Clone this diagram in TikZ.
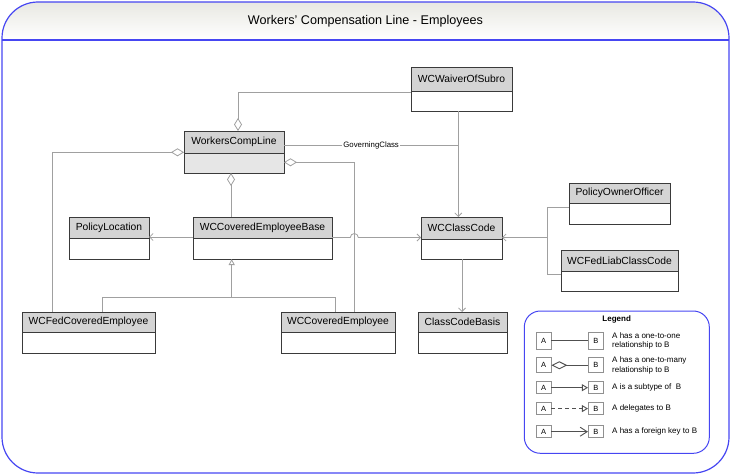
\documentclass[tikz,border=0pt]{standalone}
\usepackage{fontspec}
\setmainfont{Liberation Sans}
\usetikzlibrary{arrows.meta,calc}

\definecolor{frameblue}{HTML}{4646F2}
\definecolor{hdrgray}{HTML}{D4D4D4}
\definecolor{bodygray}{HTML}{E6E6E6}
\definecolor{conngray}{HTML}{A0A0A0}
\definecolor{boxedge}{HTML}{3A3A3A}
\definecolor{titletop}{HTML}{E8E8E2}
\definecolor{legline}{HTML}{505050}
\definecolor{legbox}{HTML}{909090}

\tikzset{
  conn/.style={draw=conngray, line width=0.8pt},
  aggs/.style={{Diamond[open,length=13pt,width=8pt]}-},
  fk/.style={-{Straight Barb[length=3.5pt,width=7pt]}},
  inh/.style={-{Triangle[open,length=6pt,width=6pt]}},
  clsfont/.style={font=\fontsize{10.3}{12}\selectfont, text=black, inner sep=0pt},
  lbl/.style={font=\fontsize{7.8}{9}\selectfont, fill=white, inner sep=1pt},
  legab/.style={draw=legbox, line width=0.7pt, minimum width=15pt, inner sep=0pt, font=\fontsize{7.5}{9}\selectfont},
  legtxt/.style={anchor=west, align=left, inner sep=0pt, font=\fontsize{8}{9.5}\selectfont},
  legconn/.style={draw=legline, line width=0.9pt},
}

\newcommand\classbox[8]{%
  \fill[#7] (#2,#3) rectangle (#4,#6);
  \fill[hdrgray] (#2,#3) rectangle (#4,#5);
  \draw[boxedge, line width=0.9pt] (#2,#5) -- (#4,#5);
  \node[draw=boxedge, line width=0.9pt, minimum width={(#4-#2)*1pt}, minimum height={(#6-#3)*1pt}, inner sep=0pt, outer sep=0pt] (#1) at ({(#2+#4)/2},{(#3+#6)/2}) {};
  \node[clsfont] (#1-t) at ({(#2+#4)/2},{(#3+#5)/2}) {#8};
}

\begin{document}
\begin{tikzpicture}[x=1pt, y=-1pt]
\useasboundingbox (0,0) rectangle (731,476);

% frame with title band
\begin{scope}
  \clip[rounded corners=36pt] (2,2) rectangle (729,473);
  \shade[top color=titletop, bottom color=white] (2,2) rectangle (729,40);
\end{scope}
\draw[frameblue, line width=1.2pt, rounded corners=36pt] (2,2) rectangle (729,473);
\draw[frameblue, line width=1.4pt] (2,40) -- (729,40);
\node[font=\fontsize{12.6}{15}\selectfont, inner sep=0pt] (title) at (365.5,21) {Workers' Compensation Line - Employees};

% classes
\classbox{waiver}{411}{67}{512}{91}{111}{white}{WCWaiverOfSubro}
\classbox{wcl}{184}{131}{284}{153}{173}{bodygray}{WorkersCompLine}
\classbox{polloc}{69}{217}{149}{238}{259}{white}{PolicyLocation}
\classbox{wcceb}{193}{217}{332}{238}{259}{white}{WCCoveredEmployeeBase}
\classbox{wccc}{421}{217}{502}{239}{259}{white}{WCClassCode}
\classbox{poo}{569}{183}{670}{203}{224}{white}{PolicyOwnerOfficer}
\classbox{fedliab}{561}{250}{678}{271}{291}{white}{WCFedLiabClassCode}
\classbox{fedce}{22}{312}{155}{332}{353}{white}{WCFedCoveredEmployee}
\classbox{wcce}{281}{312}{395}{332}{353}{white}{WCCoveredEmployee}
\classbox{ccb}{418}{312}{507}{332}{353}{white}{ClassCodeBasis}

% aggregations
\draw[conn, aggs] (wcl.north -| 238,0) -- (238,92) -- (waiver.west |- 0,92);
\draw[conn, aggs] (wcl.west |- 0,152.3) -- (52.3,152.3) -- (52.3,0 |- fedce.north);
\draw[conn, aggs] (wcl.east |- 0,162.3) -- (354.3,162.3) -- (354.3,0 |- wcce.north);
\draw[conn, aggs] (231,0 |- wcl.south) -- (231,0 |- wcceb.north);

% foreign keys
\draw[conn] (wcl.east |- 0,145) -- node[lbl] (gclbl) {GoverningClass} (458.3,145);
\draw[conn, fk] (458.3,0 |- waiver.south) -- (458.3,0 |- wccc.north);
\draw[conn, fk] (wcceb.west |- 0,237) -- (polloc.east |- 0,237);
\draw[conn, fk] (wcceb.east |- 0,237.5) -- (350.3,237.5) arc[start angle=180, end angle=0, radius=4pt] -- (wccc.west |- 0,237.5);
\draw[conn, fk] (poo.west |- 0,207.3) -- (547.3,207.3) -- (547.3,237.5) -- (wccc.east |- 0,237.5);
\draw[conn] (fedliab.west |- 0,274.3) -- (547.3,274.3) -- (547.3,237.5);
\draw[conn, fk] (462,0 |- wccc.south) -- (462,0 |- ccb.north);

% inheritance
\draw[conn, inh] (102.3,0 |- fedce.north) -- (102.3,297.3) -- (231.7,297.3) -- (231.7,0 |- wcceb.south);
\draw[conn] (335.7,0 |- wcce.north) -- (335.7,297.3) -- (231.7,297.3);

% legend
\draw[frameblue, line width=1pt, rounded corners=16pt] (524.3,311) rectangle (709.3,453.3);
\node[font=\bfseries\fontsize{8}{9}\selectfont, inner sep=0pt] (legtitle) at (616.7,319.5) {Legend};

\node[legab, minimum height=17pt] (la1) at (543.5,340.7) {A};
\node[legab, minimum height=17pt] (lb1) at (595.8,340.7) {B};
\draw[legconn] (la1) -- (lb1);
\node[legtxt] (lt1) at (612,340.7) {A has a one-to-one\\relationship to B};

\node[legab, minimum height=15pt] (la2) at (543.5,365.3) {A};
\node[legab, minimum height=15pt] (lb2) at (595.8,365.3) {B};
\draw[legconn, {Diamond[open,length=16pt,width=8pt]}-] (la2) -- (lb2);
\node[legtxt] (lt2) at (612,365.3) {A has a one-to-many\\relationship to B};

\node[legab, minimum height=12pt] (la3) at (543.5,387.7) {A};
\node[legab, minimum height=12pt] (lb3) at (595.8,387.7) {B};
\draw[legconn, -{Triangle[open,length=6pt,width=7pt]}] (la3) -- (lb3);
\node[legtxt] (lt3) at (612,387.7) {A is a subtype of\ \ B};

\node[legab, minimum height=12pt] (la4) at (543.5,408.6) {A};
\node[legab, minimum height=12pt] (lb4) at (595.8,408.6) {B};
\draw[legconn, dash pattern=on 4pt off 3pt, -{Triangle[open,length=6pt,width=7pt]}] (la4) -- (lb4);
\node[legtxt] (lt4) at (612,408.6) {A delegates to B};

\node[legab, minimum height=12pt] (la5) at (543.5,431.7) {A};
\node[legab, minimum height=12pt] (lb5) at (595.8,431.7) {B};
\draw[legconn, -{Straight Barb[length=7pt,width=9pt]}] (la5) -- (lb5);
\node[legtxt] (lt5) at (612,431.7) {A has a foreign key to B};
\end{tikzpicture}
\end{document}
